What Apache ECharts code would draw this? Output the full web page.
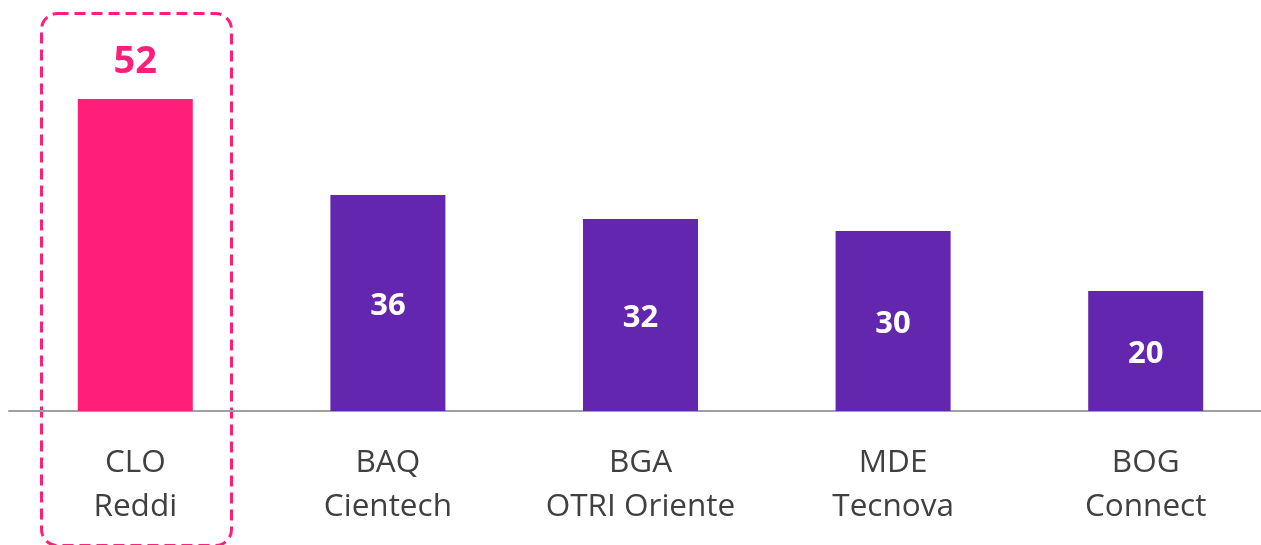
<!DOCTYPE html>
<html>
<head>
<meta charset="utf-8">
<script src="https://cdn.jsdelivr.net/npm/echarts@6/dist/echarts.min.js"></script>
<style>
html, body { margin: 0; padding: 0; background: #fff; }
#main { width: 1261px; height: 545px; }
</style>
</head>
<body>
<div id="main"></div>
<script>
const categories = ['CLO\nReddi', 'BAQ\nCientech', 'BGA\nOTRI Oriente', 'MDE\nTecnova', 'BOG\nConnect'];
const values = [52, 36, 32, 30, 20];
const highlight = 0;

const PINK = '#FF1F7B', PURPLE = '#6226AF', TXT = '#404040';
const FONT = '"Open Sans", Lato, sans-serif';

const chart = echarts.init(document.getElementById('main'));
chart.setOption({
    animation: false,
    grid: { left: 9, width: 1263, top: 99, bottom: 134, containLabel: false, outerBoundsMode: 'none' },
    xAxis: {
        type: 'category', data: categories,
        axisLine: { lineStyle: { color: '#a0a0a0', width: 2 } },
        axisTick: { show: false },
        axisLabel: { color: TXT, fontSize: 31.5, lineHeight: 44, margin: 30, fontFamily: FONT, interval: 0 }
    },
    yAxis: { type: 'value', min: 0, max: 52, show: false, splitLine: { show: false } },
    series: [{
        type: 'bar', barWidth: 115,
        data: values.map((v, i) => i === highlight ? {
            value: v,
            itemStyle: { color: PINK },
            label: { position: 'top', distance: 21, color: PINK, fontSize: 38 }
        } : { value: v }),
        itemStyle: { color: PURPLE },
        label: { show: true, position: 'inside', offset: [0, 3], color: '#fff', fontSize: 31, fontWeight: 'bold', fontFamily: FONT }
    }],
    graphic: [{
        type: 'rect', left: 39, top: 11,
        shape: { width: 190, height: 532, r: 16 },
        style: { fill: 'none', stroke: PINK, lineWidth: 3, lineDash: [11, 6] }
    }]
});
</script>
</body>
</html>
